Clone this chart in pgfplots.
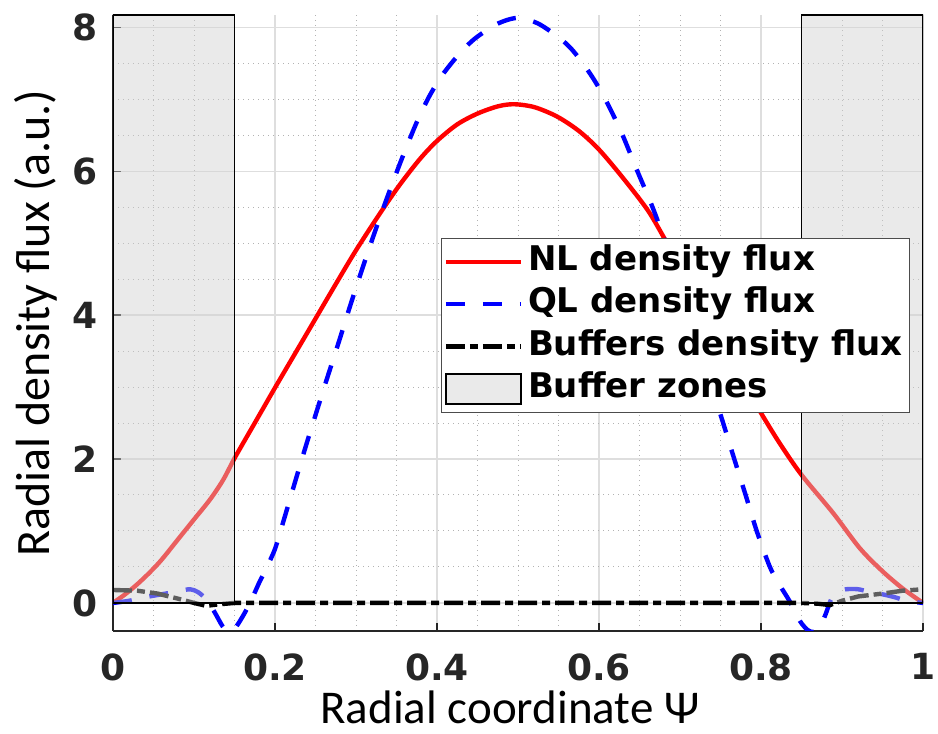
\documentclass[border=0pt]{standalone}
\usepackage{pgfplots}
\pgfplotsset{compat=1.18}
\usepackage{fontspec}
\setmainfont{DejaVu Sans}
\newfontfamily\labelfont{Carlito}
\definecolor{tickgray}{gray}{0.15}
\definecolor{majgrid}{gray}{0.87}
\definecolor{mingrid}{gray}{0.70}
\definecolor{bufgray}{gray}{0.82}
\pgfplotsset{
  linelegend/.style={legend image code/.code={\draw[##1] (0pt,0pt) -- (37.5pt,0pt);}},
  patchlegend/.style={legend image code/.code={\draw[##1] (0pt,-7.5pt) rectangle (37.5pt,7.5pt);}},
}
\begin{document}
\begin{tikzpicture}
\path[use as bounding box] (-56.5pt,-51.5pt) rectangle (412.5pt,315.5pt);
\begin{axis}[
  at={(0pt,0pt)}, anchor=south west,
  width=405pt, height=308pt, scale only axis,
  xmin=0, xmax=1, ymin=-0.39, ymax=8.17,
  axis lines*=left,
  axis line style={tickgray, line width=0.6pt},
  xtick={0,0.2,0.4,0.6,0.8,1}, ytick={0,2,4,6,8},
  minor x tick num=3, minor y tick num=3,
  tick align=inside, major tick length=4pt, minor tick length=0pt,
  tick style={tickgray, line width=0.6pt},
  grid=both,
  major grid style={majgrid, line width=0.6pt},
  minor grid style={mingrid, line width=0.5pt, dotted},
  /pgf/number format/assume math mode=true,
  ticklabel style={font=\fontsize{18}{21}\selectfont\bfseries, text=tickgray},
  xticklabel style={anchor=north, inner sep=0pt, yshift=-11pt},
  yticklabel style={anchor=east, inner sep=0pt, xshift=-7.5pt},
  xlabel={\labelfont Radial coordinate Ψ},
  ylabel={\labelfont Radial density flux (a.u.)},
  xlabel style={at={(axis description cs:0.49,-0.1494)}, anchor=base, inner sep=0pt, text depth=0pt, font=\fontsize{23.5}{28}\selectfont, text=black},
  ylabel style={at={(axis description cs:-0.0778,0.5)}, anchor=base, font=\fontsize{24}{28}\selectfont, text=black},
  legend cell align=left,
  legend style={at={(rel axis cs:0.405,0.638)}, anchor=north west,
    draw=gray!60!black, line width=0.6pt, fill=white,
    font=\fontsize{17}{20}\selectfont\bfseries, text=black,
    inner xsep=1pt, inner ysep=1pt, row sep=0pt, column sep=0pt,
    nodes={text height=12.8pt, text depth=4pt, inner ysep=2.2pt, inner xsep=2.5pt}},
  linelegend,
]
% NL density flux
\addplot[red, line width=2.2pt, smooth] coordinates {
(0.000,0.00) (0.015,0.12) (0.030,0.26) (0.045,0.42) (0.060,0.60) (0.080,0.88)
(0.100,1.16) (0.120,1.44) (0.136,1.71) (0.151,2.03) (0.175,2.50) (0.200,2.99)
(0.225,3.47) (0.250,3.95) (0.275,4.43) (0.300,4.90) (0.330,5.42) (0.354,5.81)
(0.379,6.17) (0.400,6.42) (0.425,6.65) (0.450,6.80) (0.475,6.90) (0.495,6.93)
(0.520,6.89) (0.548,6.76) (0.575,6.56) (0.600,6.30) (0.630,5.90) (0.660,5.46)
(0.680,5.08) (0.700,4.67) (0.720,4.26) (0.740,3.85) (0.760,3.44) (0.780,3.04)
(0.800,2.64) (0.823,2.22) (0.850,1.78) (0.889,1.25) (0.922,0.76) (0.950,0.44)
(0.975,0.20) (1.000,0.00)
};
\addlegendentry{NL density flux}
% QL density flux
\addplot[blue, line width=2.2pt, dash pattern=on 9.5pt off 9pt, smooth] coordinates {
(0.000,0.00) (0.020,0.03) (0.040,0.08) (0.060,0.12) (0.080,0.16) (0.095,0.19)
(0.105,0.15) (0.115,0.05) (0.125,-0.12) (0.135,-0.32) (0.142,-0.40) (0.150,-0.36)
(0.160,-0.19) (0.170,0.02) (0.180,0.27) (0.190,0.50) (0.200,0.75) (0.210,1.12)
(0.220,1.50) (0.230,1.88) (0.240,2.25) (0.250,2.61) (0.260,2.97) (0.270,3.32)
(0.280,3.67) (0.290,4.03) (0.300,4.38) (0.310,4.72) (0.320,5.05) (0.330,5.37)
(0.340,5.68) (0.350,5.98) (0.360,6.27) (0.375,6.68) (0.390,7.03) (0.405,7.31)
(0.420,7.53) (0.435,7.72) (0.450,7.87) (0.475,8.05) (0.500,8.13) (0.525,8.05)
(0.550,7.86) (0.565,7.71) (0.580,7.50) (0.595,7.25) (0.610,6.95) (0.628,6.53)
(0.647,6.01) (0.665,5.53) (0.678,5.14) (0.690,4.76) (0.700,4.39) (0.710,4.04)
(0.720,3.69) (0.730,3.33) (0.740,2.97) (0.753,2.51) (0.767,2.00) (0.781,1.50)
(0.795,0.99) (0.811,0.50) (0.823,0.25) (0.835,0.03) (0.848,-0.25) (0.858,-0.38)
(0.865,-0.40) (0.873,-0.33) (0.880,-0.15) (0.887,0.06) (0.895,0.15) (0.905,0.19)
(0.920,0.19) (0.935,0.15) (0.950,0.12) (0.965,0.08) (0.980,0.03) (1.000,0.00)
};
\addlegendentry{QL density flux}
% Buffers density flux
\addplot[black, line width=2.2pt, dash pattern=on 9.5pt off 2.5pt on 4pt off 2.5pt] coordinates {
(0.000,0.18) (0.030,0.17) (0.055,0.13) (0.080,0.06) (0.100,0.00) (0.115,-0.04)
(0.130,-0.02) (0.150,0.00) (0.850,0.00) (0.870,-0.01) (0.885,-0.03) (0.900,0.03)
(0.920,0.09) (0.950,0.13) (0.975,0.17) (1.000,0.19)
};
\addlegendentry{Buffers density flux}
% Buffer zones
\addplot[draw=black, line width=0.7pt, fill=bufgray, fill opacity=0.45, patchlegend]
  coordinates {(0,0) (0.15,0) (0.15,8.17) (0,8.17)} -- cycle;
\addlegendentry{Buffer zones}
\addplot[draw=black, line width=0.7pt, fill=bufgray, fill opacity=0.45, forget plot]
  coordinates {(0.85,0) (1,0) (1,8.17) (0.85,8.17)} -- cycle;
\end{axis}
\end{tikzpicture}
\end{document}
